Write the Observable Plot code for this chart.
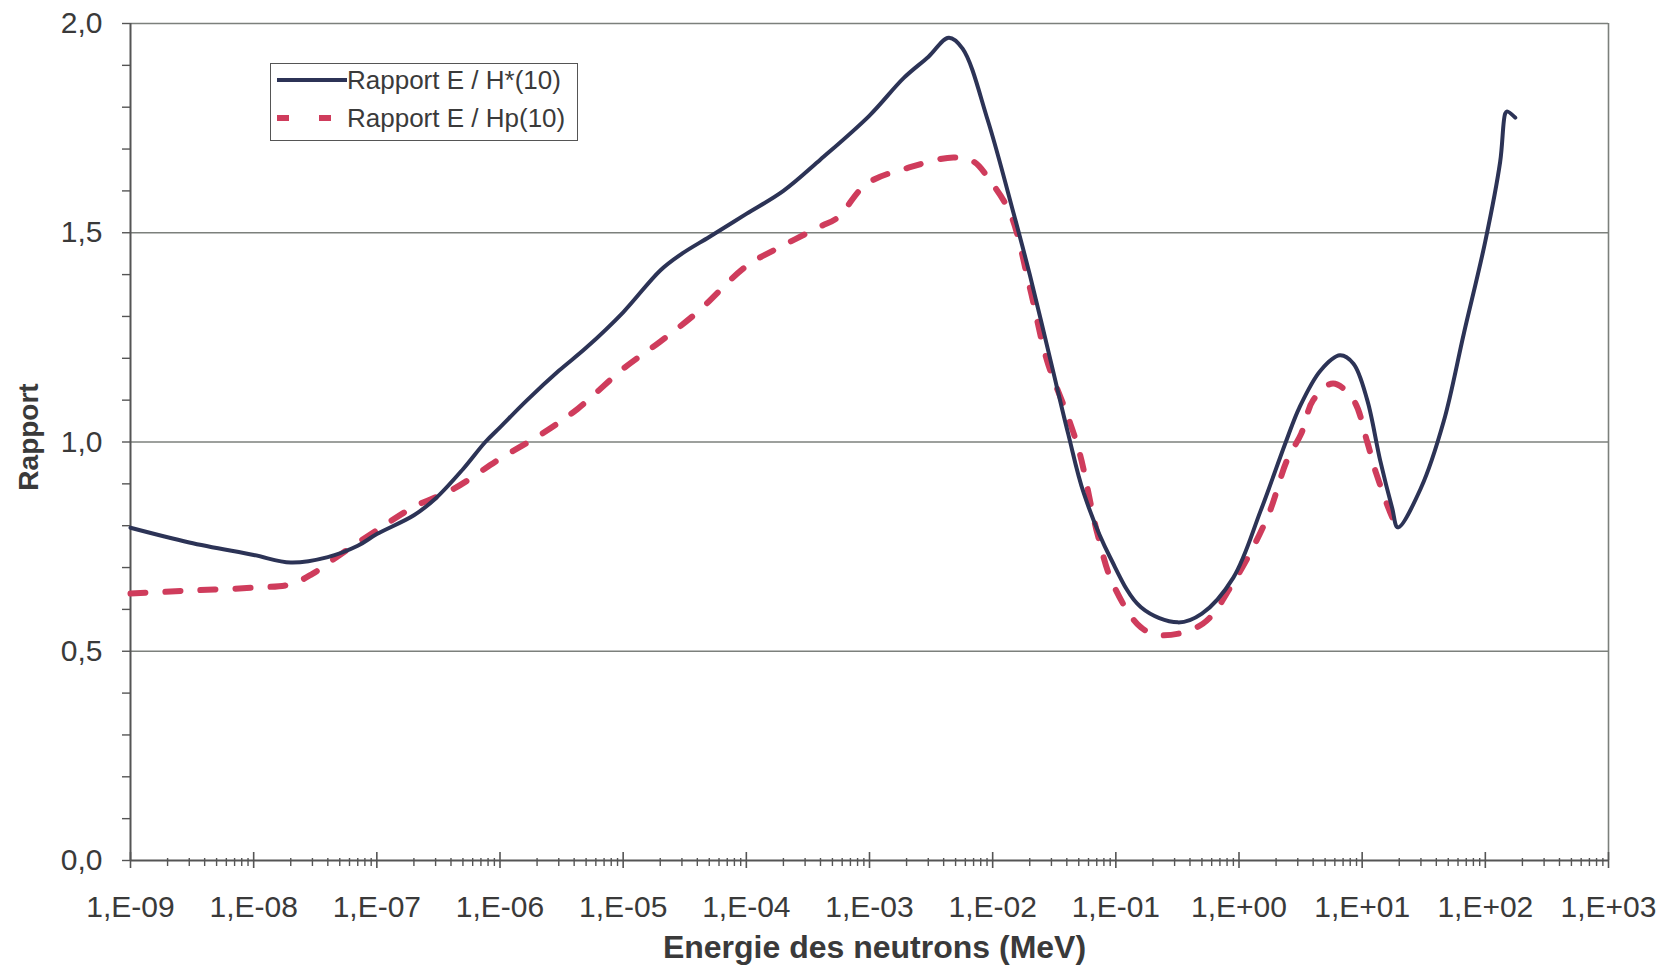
<!DOCTYPE html>
<html><head><meta charset="utf-8">
<script src="https://cdn.jsdelivr.net/npm/d3@7"></script>
<script src="https://cdn.jsdelivr.net/npm/@observablehq/plot@0.6"></script>
<style>
body{margin:0;background:#fff;font-family:"Liberation Sans",Arial,sans-serif;}
#wrap{position:relative;width:1675px;height:969px;}
#legend{position:absolute;left:270px;top:63px;width:308px;height:78px;border:1.5px solid #555;background:#fff;box-sizing:border-box;}
.row{position:absolute;left:4px;display:flex;align-items:center;height:30px;}
.row span{font-size:26px;color:#3a3a3a;white-space:nowrap;}
.row svg{display:block;}
</style></head>
<body><div id="wrap"><div id="legend">
<div class="row" style="top:1px"><svg width="72" height="30"><line x1="2" x2="72" y1="15" y2="15" stroke="#2c3356" stroke-width="4"/></svg><span>Rapport E / H*(10)</span></div>
<div class="row" style="top:39px"><svg width="72" height="30"><line x1="2" x2="72" y1="15" y2="15" stroke="#cf3c5c" stroke-width="6" stroke-dasharray="12,30"/></svg><span>Rapport E / Hp(10)</span></div>
</div></div>
<script>
// Rapport E / H*(10)
const hstarEnergy = [1e-9,3e-9,1e-8,2e-8,4e-8,7e-8,1e-7,2e-7,3e-7,5e-7,7.6e-7,1e-6,1.66e-6,3e-6,5e-6,1e-5,2e-5,3e-5,5e-5,1e-4,2e-4,4e-4,1e-3,1.9e-3,3e-3,4.4e-3,5.7e-3,9.1e-3,1.48e-2,2e-2,2.95e-2,4.1e-2,5.5e-2,9e-2,0.16,0.32,0.5,0.9,1.5,2.4,3.1,4.6,6.6,8.5,11,14,17.5,19.5,30,46,67,100,132,145,150,175];
const hstarRatio  = [0.795,0.76,0.73,0.712,0.725,0.752,0.78,0.825,0.865,0.935,1.0,1.035,1.10,1.17,1.225,1.31,1.41,1.45,1.49,1.545,1.60,1.675,1.78,1.87,1.92,1.966,1.94,1.77,1.546,1.40,1.195,1.02,0.877,0.724,0.605,0.569,0.59,0.676,0.836,1.0,1.083,1.171,1.207,1.187,1.10,0.956,0.843,0.796,0.89,1.05,1.26,1.48,1.67,1.785,1.79,1.775];
// Rapport E / Hp(10)
const hpEnergy = [1e-9,3e-9,1e-8,2e-8,3e-8,5e-8,1.07e-7,2e-7,4.2e-7,1e-6,2.2e-6,4.3e-6,1e-5,2e-5,4e-5,1e-4,2e-4,4e-4,5.5e-4,9.5e-4,2.1e-3,4.8e-3,7e-3,9.5e-3,1.39e-2,2e-2,2.76e-2,4.1e-2,5.1e-2,7.1e-2,9.5e-2,0.16,0.24,0.51,0.89,1.7,2.45,3.2,4,5.8,8.5,11,13,18.6,20];
const hpRatio  = [0.638,0.645,0.652,0.66,0.685,0.73,0.795,0.845,0.888,0.96,1.02,1.08,1.175,1.24,1.31,1.42,1.47,1.515,1.536,1.617,1.656,1.68,1.67,1.625,1.546,1.37,1.195,1.059,0.972,0.78,0.66,0.557,0.538,0.566,0.662,0.82,0.956,1.02,1.1,1.14,1.10,1.0,0.925,0.805,0.795];

const xTickValues = d3.range(-9, 4).map(e => Math.pow(10, e));
const xMinorValues = d3.range(-9, 3).flatMap(e => d3.range(2, 10).map(k => k * Math.pow(10, e)));
const yLabelValues = [0, 0.5, 1.0, 1.5, 2.0];
const yMinorValues = d3.range(0, 21).map(i => i / 10);
const gridValues = [0.5, 1.0, 1.5];
const xTitle = "Energie des neutrons (MeV)";
const yTitle = "Rapport";

const hstar = hstarEnergy.map((e, i) => ({e, r: hstarRatio[i]}));
const hp = hpEnergy.map((e, i) => ({e, r: hpRatio[i]}));

const W = 1675, H = 969, mL = 130, mR = 67, mT = 23, mB = 109;
const plotW = W - mL - mR, plotH = H - mT - mB;
const fmtX = d => { const e = Math.round(Math.log10(d)); return "1,E" + (e < 0 ? "-" : "+") + String(Math.abs(e)).padStart(2, "0"); };

const chart = Plot.plot({
  width: W, height: H, marginLeft: mL, marginRight: mR, marginTop: mT, marginBottom: mB,
  style: {fontFamily: '"Liberation Sans", Arial, sans-serif', fontSize: "30px", background: "#fff", color: "#333"},
  x: {type: "log", domain: [1e-9, 1e3]},
  y: {domain: [0, 2]},
  marks: [
    Plot.ruleY(gridValues, {y: d => d, stroke: "#7c807c", strokeWidth: 1.6}),
    Plot.ruleY([2], {y: d => d, stroke: "#7c807c", strokeWidth: 1.6}),
    Plot.ruleX([1e3], {x: d => d, stroke: "#7c807c", strokeWidth: 1.6}),
    Plot.ruleX([1e-9], {x: d => d, stroke: "#555", strokeWidth: 2}),
    Plot.ruleY([0], {y: d => d, stroke: "#555", strokeWidth: 2}),
    Plot.tickX(xTickValues, {x: d => d, stroke: "#555", strokeWidth: 1.6, insetTop: plotH - 8, insetBottom: -8}),
    Plot.tickX(xMinorValues, {x: d => d, stroke: "#555", strokeWidth: 1.4, insetTop: plotH - 2, insetBottom: -6}),
    Plot.tickY(yMinorValues, {y: d => d, stroke: "#555", strokeWidth: 1.4, insetLeft: -8, insetRight: plotW}),
    Plot.axisX({ticks: xTickValues, tickSize: 0, tickPadding: 35, tickFormat: fmtX, fontSize: 30, fill: "#3a3a3a", label: null}),
    Plot.axisY({ticks: yLabelValues, tickSize: 0, tickPadding: 28, tickFormat: d => d.toFixed(1).replace(".", ","), fontSize: 30, fill: "#3a3a3a", label: null}),
    Plot.line(hp, {x: "e", y: "r", stroke: "#cf3c5c", strokeWidth: 6, strokeDasharray: "15,20", curve: "catmull-rom"}),
    Plot.line(hstar, {x: "e", y: "r", stroke: "#2c3356", strokeWidth: 4, curve: "catmull-rom"}),
    Plot.text([xTitle], {text: d => d, frameAnchor: "bottom", dy: 87, dx: 5, lineAnchor: "middle", fontSize: 32, fontWeight: "bold", fill: "#3a3a3a"}),
    Plot.text([yTitle], {text: d => d, frameAnchor: "left", textAnchor: "middle", rotate: -90, dx: -112, dy: -5, lineAnchor: "top", fontSize: 28, fontWeight: "bold", fill: "#3a3a3a"})
  ]
});
chart.style.position = "absolute";
chart.style.left = "0";
chart.style.top = "0";
document.getElementById("wrap").insertBefore(chart, document.getElementById("legend"));
</script>
</body></html>
